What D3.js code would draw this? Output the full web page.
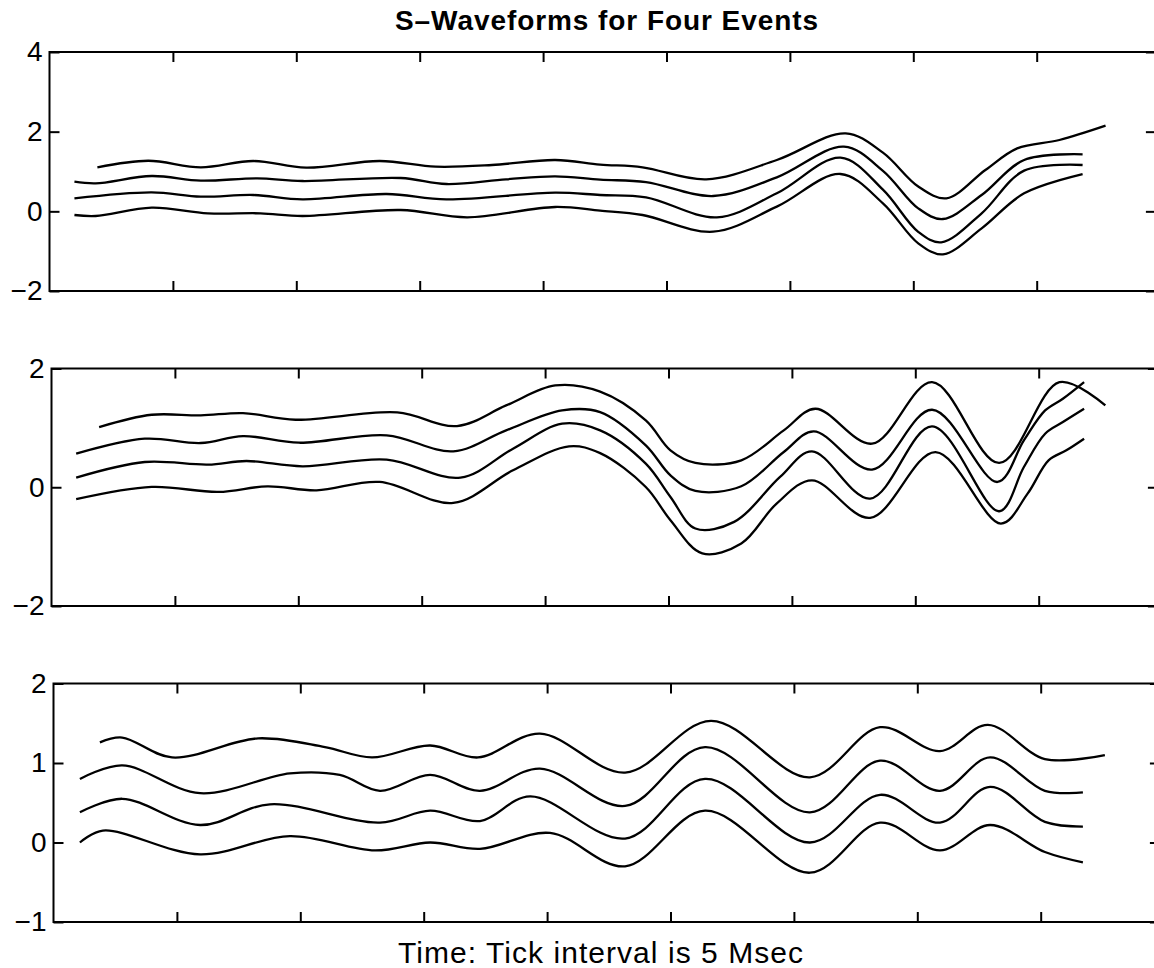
<!DOCTYPE html>
<html><head><meta charset="utf-8">
<script src="https://cdn.jsdelivr.net/npm/d3@7"></script>
<style>
body{margin:0;background:#fff;}
svg{display:block;}
</style></head><body>
<svg id="chart" width="1154" height="968"></svg>
<script>
// ---------- data ----------
const titleText = "S\u2013Waveforms for Four Events";
const xLabelText = "Time: Tick interval is 5 Msec";
const timeSpan = [0, 44.83];               // ms
const xTicks = [5, 10, 15, 20, 25, 30, 35, 40];

const p1Domain = [-2, 4], p1Ticks = [4, 2, 0, -2];
const p2Domain = [-2, 2], p2Ticks = [2, 0, -2];
const p3Domain = [-1, 2], p3Ticks = [2, 1, 0, -1];

// each series: [time (ms), amplitude]
const p1a = [[1.94,1.105],[4.0,1.27],[6.13,1.105],[8.26,1.264],[10.40,1.096],[13.38,1.264],[15.65,1.121],[17.93,1.163],[20.49,1.289],[22.31,1.175],[24.03,1.105],[26.61,0.803],[29.47,1.289],[32.26,1.958],[33.77,1.473],[35.2,0.622],[36.34,0.326],[37.92,1.037],[39.21,1.582],[40.92,1.791],[42.79,2.15]];
const p1b = [[1.01,0.745],[1.87,0.703],[4.14,0.887],[6.13,0.77],[8.41,0.828],[10.25,0.761],[14.23,0.837],[16.08,0.686],[18.5,0.803],[20.49,0.878],[22.31,0.795],[24.17,0.736],[26.89,0.385],[29.47,0.853],[32.19,1.624],[33.77,1.017],[35.2,0.075],[36.2,-0.193],[37.77,0.41],[39.49,1.289],[41.86,1.431]];
const p1c = [[1.01,0.326],[4.14,0.477],[6.13,0.368],[8.26,0.41],[10.25,0.301],[13.66,0.435],[16.08,0.301],[20.49,0.469],[22.31,0.41],[24.17,0.351],[27.04,-0.151],[29.47,0.452],[32.05,1.347],[33.77,0.544],[35.2,-0.515],[36.13,-0.778],[37.77,-0.05],[39.49,1.021],[41.86,1.163]];
const p1d = [[1.01,-0.092],[1.87,-0.117],[4.14,0.092],[6.42,-0.05],[8.55,-0.05],[10.25,-0.117],[14.23,0.033],[16.93,-0.151],[20.49,0.109],[22.31,0.017],[24.03,-0.092],[26.89,-0.511],[29.47,0.117],[32.05,0.937],[33.77,0.2],[35.2,-0.803],[36.2,-1.08],[37.77,-0.427],[39.49,0.452],[41.86,0.937]];

const p2a = [[1.93,1.014],[4.06,1.221],[6.05,1.21],[7.76,1.249],[9.89,1.137],[14.01,1.26],[16.43,1.03],[18.42,1.378],[20.41,1.714],[22.23,1.61],[24.08,1.126],[25.08,0.622],[26.09,0.409],[27.95,0.454],[29.67,0.958],[30.95,1.322],[33.25,0.734],[35.68,1.77],[38.4,0.409],[40.84,1.77],[42.7,1.378]];
const p2b = [[1.0,0.566],[3.78,0.818],[6.05,0.745],[7.76,0.862],[10.03,0.75],[13.58,0.874],[16.28,0.605],[18.42,0.958],[20.69,1.294],[22.23,1.266],[24.08,0.706],[25.08,0.2],[26.09,-0.062],[27.95,0.016],[29.67,0.594],[30.88,0.941],[33.25,0.297],[35.68,1.305],[38.33,0.089],[39.4,0.79],[40.26,1.294],[40.98,1.49],[41.84,1.77]];
const p2c = [[1.0,0.162],[3.78,0.425],[6.34,0.381],[7.9,0.442],[10.17,0.353],[13.58,0.465],[16.57,0.162],[18.7,0.65],[20.69,1.07],[22.23,0.958],[24.08,0.397],[25.08,-0.163],[26.09,-0.695],[27.66,-0.583],[29.52,0.173],[30.81,0.605],[33.17,-0.191],[35.68,1.025],[38.4,-0.404],[39.4,0.341],[40.26,0.902],[40.98,1.098],[41.84,1.322]];
const p2d = [[1.0,-0.202],[4.06,0.005],[6.76,-0.079],[8.75,0.016],[10.74,-0.051],[13.3,0.089],[16.28,-0.264],[18.7,0.285],[20.97,0.689],[22.23,0.574],[24.08,0.005],[25.08,-0.555],[26.37,-1.115],[27.95,-0.947],[29.38,-0.275],[30.81,0.117],[33.17,-0.516],[35.82,0.593],[38.47,-0.611],[39.55,-0.107],[40.4,0.454],[41.12,0.622],[41.84,0.818]];

const p3a = [[1.88,1.26],[2.78,1.32],[4.8,1.07],[8.29,1.31],[11.0,1.2],[12.9,1.07],[15.26,1.22],[17.2,1.07],[19.71,1.37],[23.16,0.88],[26.64,1.53],[30.65,0.82],[33.49,1.45],[35.92,1.15],[37.86,1.48],[40.17,1.05],[42.6,1.1]];
const p3b = [[1.07,0.8],[2.78,0.97],[5.94,0.62],[9.58,0.87],[11.6,0.85],[13.23,0.65],[15.26,0.85],[17.28,0.65],[19.71,0.93],[23.16,0.46],[26.4,1.2],[30.65,0.38],[33.49,1.03],[35.92,0.65],[37.95,1.07],[40.17,0.65],[41.71,0.63]];
const p3c = [[1.07,0.38],[2.78,0.55],[5.94,0.22],[8.77,0.48],[13.23,0.25],[15.26,0.4],[17.28,0.27],[19.31,0.58],[23.16,0.05],[26.4,0.8],[30.65,0.0],[33.49,0.6],[35.92,0.25],[37.95,0.7],[40.17,0.26],[41.71,0.2]];
const p3d = [[1.07,0.0],[2.0,0.15],[5.94,-0.15],[9.58,0.08],[13.03,-0.1],[15.26,0.0],[17.28,-0.08],[20.12,0.12],[23.16,-0.3],[26.4,0.4],[30.65,-0.38],[33.49,0.25],[35.92,-0.1],[37.95,0.22],[40.17,-0.12],[41.71,-0.25]];

// ---------- layout ----------
const FONT = '"Liberation Sans", Arial, Helvetica, sans-serif';
const plotW = 1106.4;
const panels = [
  {series:[p1a,p1b,p1c,p1d], domain:p1Domain, ticks:p1Ticks, L:49.5, T:52,    B:291},
  {series:[p2a,p2b,p2c,p2d], domain:p2Domain, ticks:p2Ticks, L:51.5, T:368.5, B:606},
  {series:[p3a,p3b,p3c,p3d], domain:p3Domain, ticks:p3Ticks, L:53.5, T:683.5, B:922}
];

const svg = d3.select("#chart");
svg.append("rect").attr("width",1154).attr("height",968).attr("fill","#fff");

const fmt = d3.format("d");

panels.forEach(p => {
  const x = d3.scaleLinear().domain(timeSpan).range([p.L, p.L + plotW]);
  const y = d3.scaleLinear().domain(p.domain).range([p.B, p.T]);
  const g = svg.append("g");

  const styleAxis = s => {
    s.select(".domain").remove();
    s.selectAll(".tick line").attr("stroke","#000").attr("stroke-width",2);
    s.attr("font-family", FONT).attr("font-size", 28);
    s.selectAll(".tick text").attr("fill","#000");
  };

  g.append("g").attr("transform",`translate(0,${p.B})`)
    .call(d3.axisBottom(x).tickValues(xTicks).tickSize(-10).tickFormat(""))
    .call(styleAxis);
  g.append("g").attr("transform",`translate(0,${p.T})`)
    .call(d3.axisTop(x).tickValues(xTicks).tickSize(-10).tickFormat(""))
    .call(styleAxis);
  g.append("g").attr("transform",`translate(${p.L},0)`)
    .call(d3.axisLeft(y).tickValues(p.ticks).tickSize(-10).tickPadding(7).tickFormat(fmt))
    .call(styleAxis);
  g.append("g").attr("transform",`translate(${p.L + plotW},0)`)
    .call(d3.axisRight(y).tickValues(p.ticks).tickSize(-10).tickFormat(""))
    .call(styleAxis);

  g.append("rect")
    .attr("x",p.L).attr("y",p.T).attr("width",plotW).attr("height",p.B-p.T)
    .attr("fill","none").attr("stroke","#000").attr("stroke-width",2);

  const line = d3.line()
    .x(d => x(d[0])).y(d => y(d[1]))
    .curve(d3.curveCatmullRom.alpha(0.5));

  g.selectAll("path.wave").data(p.series).join("path")
    .attr("class","wave")
    .attr("d", line)
    .attr("fill","none").attr("stroke","#000").attr("stroke-width",2.3)
    .attr("stroke-linejoin","round");
});

svg.append("text")
  .attr("x",606.5).attr("y",30)
  .attr("text-anchor","middle")
  .attr("font-family",FONT).attr("font-size",28).attr("font-weight","bold")
  .attr("textLength",423).attr("lengthAdjust","spacing")
  .text(titleText);

svg.append("text")
  .attr("x",600.5).attr("y",963)
  .attr("text-anchor","middle")
  .attr("font-family",FONT).attr("font-size",30)
  .attr("textLength",405).attr("lengthAdjust","spacing")
  .text(xLabelText);
</script>
</body></html>
